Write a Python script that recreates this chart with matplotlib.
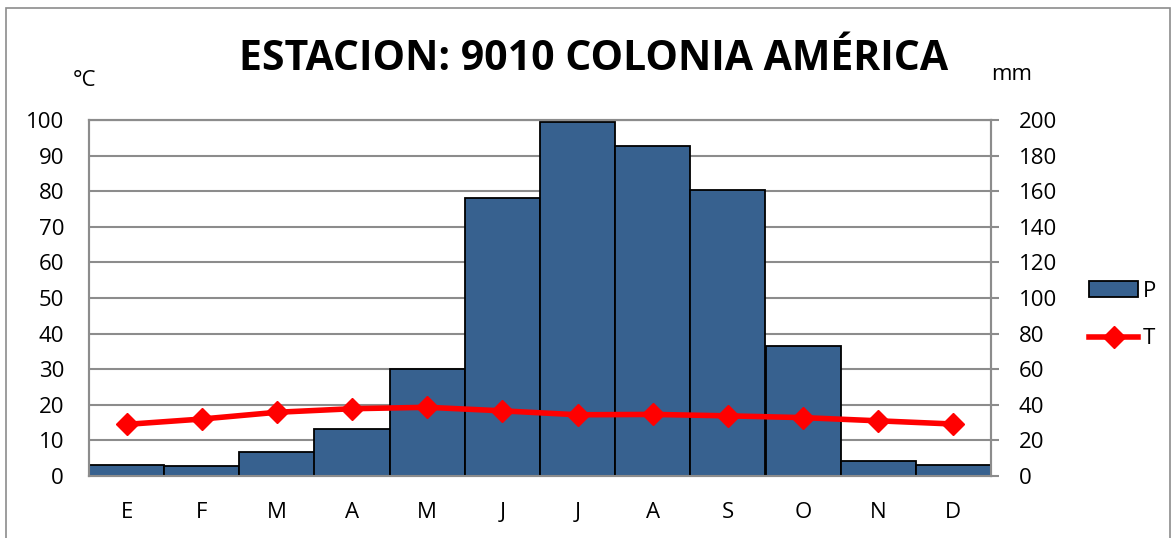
import numpy as np
import matplotlib.pyplot as plt
from matplotlib.patches import Rectangle
from matplotlib.lines import Line2D

meses = ['E', 'F', 'M', 'A', 'M', 'J', 'J', 'A', 'S', 'O', 'N', 'D']
precip = [6.3, 5.8, 13.5, 26.2, 60, 156, 199, 185.5, 160.5, 73, 8.6, 6.0]
temp = [14.5, 16.0, 17.9, 18.9, 19.3, 18.3, 17.2, 17.3, 16.9, 16.4, 15.5, 14.6]

W, H = 1176, 538
fig = plt.figure(figsize=(W / 100, H / 100), dpi=100)
fig.patches.append(Rectangle((6 / W, -0.01), 1164 / W, 1 - 8 / H + 0.01,
                             transform=fig.transFigure, fill=False,
                             edgecolor='#8c8c8c', lw=1.2))

ax = fig.add_axes([89 / W, 1 - 476 / H, 902 / W, 356 / H])
ax2 = ax.twinx()
# bars on the mm axis, drawn below the temperature line
ax.set_zorder(2)
ax2.set_zorder(1)
ax.patch.set_visible(False)

x = np.arange(len(meses))
ax2.bar(x, precip, width=1.0, color='#37618f', edgecolor='black', lw=1.3, zorder=3)
ax.plot(x, temp, color='red', lw=4, marker='D', ms=11, zorder=5)

ax.set_xlim(-0.5, 11.5)
ax.set_ylim(0, 100)
ax2.set_ylim(0, 200)
ax.set_yticks(np.arange(0, 101, 10))
ax2.set_yticks(np.arange(0, 201, 20))
ax2.yaxis.grid(True, color='#8c8c8c', lw=1.5, zorder=0)
ax2.set_axisbelow(True)
ax.set_xticks(x)
ax.set_xticklabels(meses)

fnt = 'Open Sans'
fs = 16
for a in (ax, ax2):
    for s in a.spines.values():
        s.set_color('#8c8c8c')
        s.set_linewidth(1.5)
    a.tick_params(labelsize=fs, colors='black')
    for lab in a.get_xticklabels() + a.get_yticklabels():
        lab.set_fontfamily(fnt)
ax.tick_params(axis='y', length=0, pad=18)
ax.tick_params(axis='x', length=0, pad=19)
ax2.tick_params(axis='y', length=6, color='#8c8c8c', width=1.5, pad=14)

fig.text(594 / W, 1 - 59 / H, 'ESTACION: 9010 COLONIA AMÉRICA', ha='center', va='center',
         fontsize=29.5, fontweight='bold', family='Open Sans')
fig.text(85 / W, 1 - 80 / H, '°C', ha='center', va='center', fontsize=fs, family=fnt)
fig.text(1012 / W, 1 - 74 / H, 'mm', ha='center', va='center', fontsize=fs, family=fnt)

handles = [Rectangle((0, 0), 1, 1, facecolor='#37618f', edgecolor='black', lw=1.3),
           Line2D([], [], color='red', lw=4, marker='D', ms=11)]
fig.legend(handles, ['P', 'T'], loc='center left', bbox_to_anchor=(1078 / W, 1 - 315 / H),
           frameon=False, prop={'family': fnt, 'size': fs}, borderpad=0,
           handlelength=2.2, handletextpad=0.2, labelspacing=1.2)

fig.savefig('out.png', dpi=100)
